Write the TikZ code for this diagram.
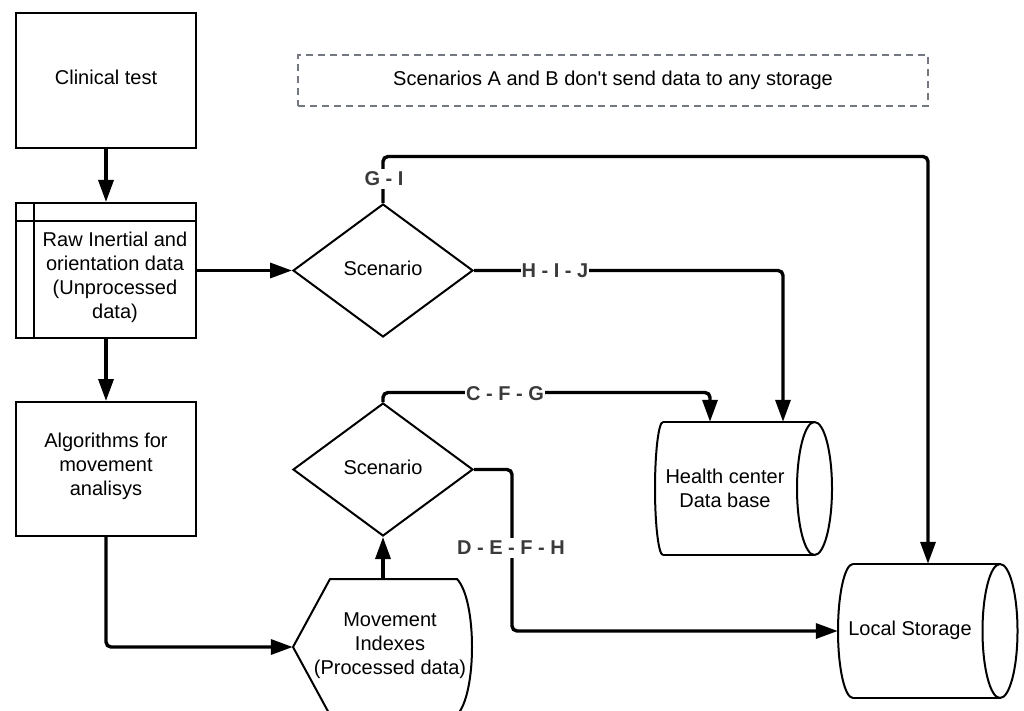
\documentclass[tikz,border=0pt]{standalone}
\usepackage{fontspec}
\setmainfont{Liberation Sans}
\usetikzlibrary{arrows.meta,shapes.geometric,calc}
\definecolor{lblgray}{HTML}{3A3A3A}
\definecolor{dashgray}{HTML}{737880}
\begin{document}
\begin{tikzpicture}[x=1pt,y=-1pt,
  every node/.style={font=\fontsize{20}{24}\selectfont},
  box/.style={draw, line width=2pt, minimum width=180pt, minimum height=135pt, inner sep=0pt, align=center},
  dia/.style={draw, diamond, line width=2pt, minimum width=180pt, minimum height=133pt, inner sep=0pt},
  area/.style={minimum width=180pt, minimum height=134pt, inner sep=0pt},
  txt/.style={align=center, inner sep=0pt},
  conn/.style={line width=3.4pt, -{Triangle[length=22pt,width=15pt]}, rounded corners=5pt},
  lbl/.style={fill=white, text=lblgray, font=\bfseries\fontsize{20}{24}\selectfont, inner xsep=1pt, inner ysep=3pt},
  outline/.style={line width=2pt, line join=round}
]
\useasboundingbox (0,0) rectangle (1024,711);
\clip (0,0) rectangle (1024,711);

% note
\node[draw=dashgray, dash pattern=on 7pt off 5pt, line width=1.5pt, minimum width=630pt, minimum height=51pt] (note) at (613,80.5) {Scenarios A and B don\textquotesingle t send data to any storage};

% left column
\node[box] (clin) at (106,80.5) {};
\node[txt] (clintext) at (106,77.5) {Clinical test};
\node[box] (raw) at (106,270.5) {};
\draw[outline] ($(raw.north west)+(0,19)$) -- ($(raw.north east)+(0,19)$);
\draw[outline] ($(raw.north west)+(19,0)$) -- ($(raw.south west)+(19,0)$);
\node[txt] (rawtext) at (115,277) {Raw Inertial and\\orientation data\\(Unprocessed\\data)};
\node[box, minimum height=134pt] (alg) at (106,469) {};
\node[txt] (algtext) at (106,466.5) {Algorithms for\\movement\\analisys};

% diamonds
\node[dia] (s1) at (383,270.5) {};
\node[txt] (s1text) at (383,268.5) {Scenario};
\node[dia] (s2) at (383,469.5) {};
\node[txt] (s2text) at (383,467.5) {Scenario};

% movement indexes (display shape)
\node[area, minimum height=136pt] (mov) at (383,647) {};
\draw[outline] (293,647) -- (330,579) -- (457,579) .. controls (477,600) and (477,694) .. (457,715) -- (330,715) -- cycle;
\node[txt] (movtext) at (390,646) {Movement\\Indexes\\(Processed data)};

% health center cylinder
\node[area, minimum width=177pt, minimum height=133pt] (hc) at (743.5,488.5) {};
\draw[outline] (663,422) -- (814.5,422);
\draw[outline] (663,555) -- (814.5,555);
\draw[outline] (663,422) arc[start angle=90, end angle=270, x radius=8pt, y radius=66.5pt];
\draw[outline] (814.5,488.5) ellipse [x radius=17.5pt, y radius=66.5pt];
\node[txt] (hctext) at (725,488) {Health center\\Data base};

% local storage cylinder
\node[area] (ls) at (928,631) {};
\draw[outline] (853,564) -- (1000,564);
\draw[outline] (853,698) -- (1000,698);
\draw[outline] (853,564) arc[start angle=90, end angle=270, x radius=15pt, y radius=67pt];
\draw[outline] (1000,631) ellipse [x radius=17.5pt, y radius=67pt];
\node[txt] (lstext) at (910,630) {Local Storage};

% connectors
\draw[conn] (clin) -- (raw);
\draw[conn] (raw) -- (alg);
\draw[conn] (raw.east) -- (s1.west);
\draw[conn] (alg.south) |- (mov.west);
\draw[conn] (mov.north) -- (s2.south);
\draw[conn] (s1.north) -- ++(0,-46.5) -| (ls.north);
\draw[conn] (s1.east) -| ($(hc.north)+(39.5,0)$);
\draw[conn] (s2.north) -- ++(0,-9.5) -| ($(hc.north)+(-33.5,0)$);
\draw[conn] (s2.east) -- ++(38,0) |- (ls.west);

% labels
\node[lbl] (lGI) at (384,179) {G - I};
\node[lbl] (lHIJ) at (555,270.5) {H - I - J};
\node[lbl] (lCFG) at (505,394) {C - F - G};
\node[lbl] (lDEFH) at (511,548) {D - E - F - H};
\end{tikzpicture}
\end{document}
